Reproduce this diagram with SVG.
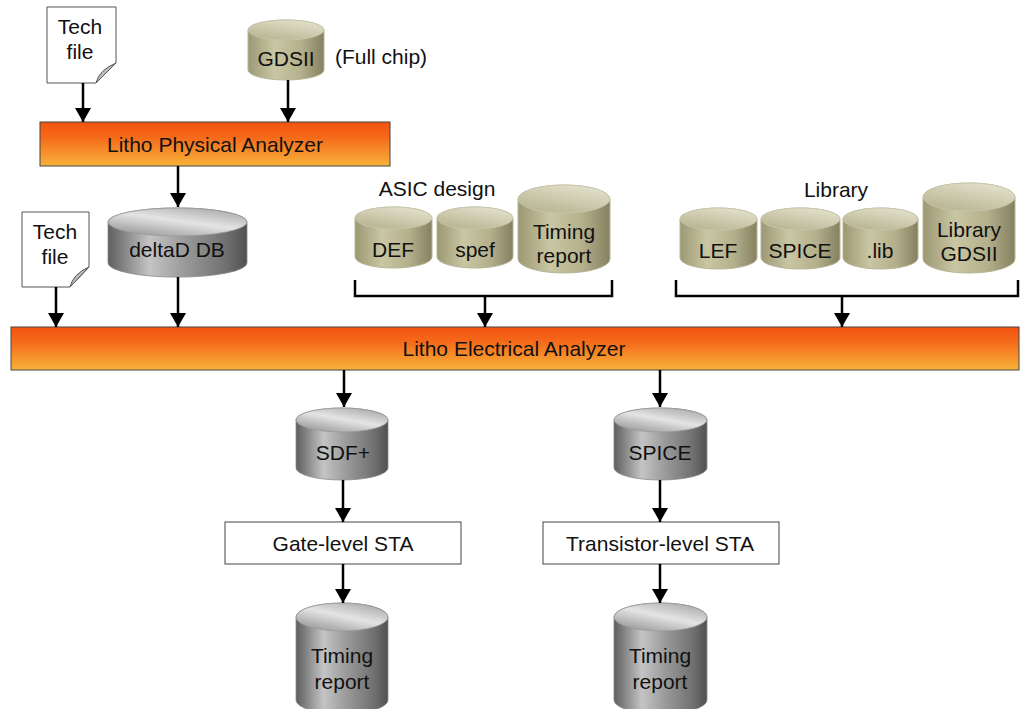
<svg xmlns="http://www.w3.org/2000/svg" width="1024" height="709" viewBox="0 0 1024 709">
<defs>
<linearGradient id="bar" x1="0" y1="0" x2="0" y2="1">
<stop offset="0" stop-color="#f4530f"/>
<stop offset="0.35" stop-color="#f56a1a"/>
<stop offset="1" stop-color="#f8b33a"/>
</linearGradient>
<linearGradient id="olB" x1="0" y1="0" x2="1" y2="0">
<stop offset="0" stop-color="#9c9874"/>
<stop offset="0.35" stop-color="#c9c6a3"/>
<stop offset="0.7" stop-color="#b4b08c"/>
<stop offset="1" stop-color="#858160"/>
</linearGradient>
<linearGradient id="olT" x1="0" y1="1" x2="0.6" y2="0">
<stop offset="0" stop-color="#b2ae8a"/>
<stop offset="1" stop-color="#e0dec8"/>
</linearGradient>
<linearGradient id="grB" x1="0" y1="0" x2="1" y2="0">
<stop offset="0" stop-color="#5e5e5e"/>
<stop offset="0.3" stop-color="#c4c4c4"/>
<stop offset="0.55" stop-color="#9a9a9a"/>
<stop offset="0.85" stop-color="#707070"/>
<stop offset="1" stop-color="#505050"/>
</linearGradient>
<linearGradient id="grT" x1="0" y1="1" x2="0.7" y2="0">
<stop offset="0" stop-color="#8a8a8a"/>
<stop offset="0.6" stop-color="#e4e4e4"/>
<stop offset="1" stop-color="#b0b0b0"/>
</linearGradient>
<marker id="ah" markerUnits="userSpaceOnUse" markerWidth="16" markerHeight="16" refX="14" refY="8" orient="auto">
<path d="M0,0 L14,8 L0,16 Z" fill="#000"/>
</marker>
</defs>
<style>
text{font-family:"Liberation Sans",Arial,sans-serif;font-size:21px;fill:#111;text-anchor:middle}
.doc{fill:#fff;stroke:#555;stroke-width:1}
.fold{fill:#bdbdbd;stroke:#555;stroke-width:1}
.bar{fill:url(#bar);stroke:#444;stroke-width:1}
.box{fill:#fff;stroke:#444;stroke-width:1}
.olb{fill:url(#olB);stroke:#b8b596;stroke-width:1}
.olt{fill:url(#olT);stroke:#c8c6ac;stroke-width:0.8}
.grb{fill:url(#grB);stroke:#888;stroke-width:0.8}
.grt{fill:url(#grT);stroke:#999;stroke-width:0.8}
.ln{stroke:#000;stroke-width:2.5;fill:none}
.ar{stroke:#000;stroke-width:2.5;fill:none;marker-end:url(#ah)}
</style>

<g id="techfile1">
<path class="doc" d="M47,7 H116 V63 L96,83 H47 Z"/>
<path class="fold" d="M116,63 L96,83 Q99,70 116,63 Z"/>
<text x="80" y="34">Tech</text>
<text x="80" y="59">file</text>
</g>

<g id="gdsii">
<path class="olb" d="M248,30 A38,10 0 0 1 324,30 V70 A38,10 0 0 1 248,70 Z"/>
<ellipse class="olt" cx="286" cy="30" rx="38" ry="10"/>
<text x="286" y="66">GDSII</text>
<text x="381" y="64">(Full chip)</text>
</g>

<g id="lpa">
<rect class="bar" x="40" y="122" width="350" height="44"/>
<text x="215" y="152">Litho Physical Analyzer</text>
</g>

<g id="deltad">
<path class="grb" d="M108,222 A69,14 0 0 1 247,222 V263 A69,14 0 0 1 108,263 Z"/>
<ellipse class="grt" cx="177.5" cy="222" rx="69.5" ry="14"/>
<text x="177" y="257">deltaD DB</text>
</g>

<g id="techfile2">
<path class="doc" d="M22,212 H89 V267 L70,287 H22 Z"/>
<path class="fold" d="M89,267 L70,287 Q73,274 89,267 Z"/>
<text x="55" y="239">Tech</text>
<text x="55" y="264">file</text>
</g>

<g id="asic">
<text x="437" y="196">ASIC design</text>
<g id="def">
<path class="olb" d="M355,218 A38.5,11 0 0 1 432,218 V257 A38.5,11 0 0 1 355,257 Z"/>
<ellipse class="olt" cx="393.5" cy="218" rx="38.5" ry="11"/>
<text x="393" y="257">DEF</text>
</g>
<g id="spef">
<path class="olb" d="M437,218 A38,11 0 0 1 513,218 V257 A38,11 0 0 1 437,257 Z"/>
<ellipse class="olt" cx="475" cy="218" rx="38" ry="11"/>
<text x="475" y="257">spef</text>
</g>
<g id="timing1">
<path class="olb" d="M518,199 A46,14 0 0 1 610,199 V259 A46,14 0 0 1 518,259 Z"/>
<ellipse class="olt" cx="564" cy="199" rx="46" ry="14"/>
<text x="564" y="239">Timing</text>
<text x="564" y="263">report</text>
</g>
</g>

<g id="library">
<text x="836" y="197">Library</text>
<g id="lef">
<path class="olb" d="M680,219 A38.5,11 0 0 1 757,219 V258 A38.5,11 0 0 1 680,258 Z"/>
<ellipse class="olt" cx="718.5" cy="219" rx="38.5" ry="11"/>
<text x="718" y="258">LEF</text>
</g>
<g id="spice1">
<path class="olb" d="M761,219 A39.5,11 0 0 1 840,219 V258 A39.5,11 0 0 1 761,258 Z"/>
<ellipse class="olt" cx="800.5" cy="219" rx="39.5" ry="11"/>
<text x="800" y="258">SPICE</text>
</g>
<g id="lib">
<path class="olb" d="M843,219 A37.5,11 0 0 1 918,219 V258 A37.5,11 0 0 1 843,258 Z"/>
<ellipse class="olt" cx="880.5" cy="219" rx="37.5" ry="11"/>
<text x="880" y="258">.lib</text>
</g>
<g id="libgds">
<path class="olb" d="M923,197 A46,14 0 0 1 1015,197 V259 A46,14 0 0 1 923,259 Z"/>
<ellipse class="olt" cx="969" cy="197" rx="46" ry="14"/>
<text x="969" y="237">Library</text>
<text x="969" y="261">GDSII</text>
</g>
</g>

<g id="lea">
<rect class="bar" x="11" y="327" width="1008" height="43"/>
<text x="514" y="356">Litho Electrical Analyzer</text>
</g>

<g id="sdf">
<path class="grb" d="M296,420 A46,12 0 0 1 388,420 V468 A46,12 0 0 1 296,468 Z"/>
<ellipse class="grt" cx="342" cy="420" rx="46" ry="12"/>
<text x="343" y="460">SDF+</text>
</g>
<g id="spice2">
<path class="grb" d="M614,420 A46.5,12 0 0 1 707,420 V468 A46.5,12 0 0 1 614,468 Z"/>
<ellipse class="grt" cx="660.5" cy="420" rx="46.5" ry="12"/>
<text x="660" y="460">SPICE</text>
</g>

<g id="gatesta">
<rect class="box" x="225" y="522" width="236" height="42"/>
<text x="343" y="551">Gate-level STA</text>
</g>
<g id="transsta">
<rect class="box" x="543" y="522" width="236" height="42"/>
<text x="660" y="551">Transistor-level STA</text>
</g>

<g id="timing2">
<path class="grb" d="M296,617 A46,14 0 0 1 388,617 V700 A46,14 0 0 1 296,700 Z"/>
<ellipse class="grt" cx="342" cy="617" rx="46" ry="14"/>
<text x="342" y="663">Timing</text>
<text x="342" y="689">report</text>
</g>
<g id="timing3">
<path class="grb" d="M614,617 A46.5,14 0 0 1 707,617 V700 A46.5,14 0 0 1 614,700 Z"/>
<ellipse class="grt" cx="660.5" cy="617" rx="46.5" ry="14"/>
<text x="660" y="663">Timing</text>
<text x="660" y="689">report</text>
</g>

<g id="connectors">
<line class="ar" x1="83" y1="83" x2="83" y2="122"/>
<line class="ar" x1="288" y1="80" x2="288" y2="122"/>
<line class="ar" x1="178" y1="166" x2="178" y2="207"/>
<line class="ar" x1="56" y1="287" x2="56" y2="327"/>
<line class="ar" x1="178" y1="277" x2="178" y2="327"/>
<path class="ln" d="M355,280 V296 H612 V280"/>
<line class="ar" x1="485" y1="296" x2="485" y2="327"/>
<path class="ln" d="M676,280 V296 H1018 V280"/>
<line class="ar" x1="842" y1="296" x2="842" y2="327"/>
<line class="ar" x1="344" y1="370" x2="344" y2="407"/>
<line class="ar" x1="660" y1="370" x2="660" y2="407"/>
<line class="ar" x1="343" y1="480" x2="343" y2="522"/>
<line class="ar" x1="660" y1="480" x2="660" y2="522"/>
<line class="ar" x1="343" y1="564" x2="343" y2="603"/>
<line class="ar" x1="660" y1="564" x2="660" y2="603"/>
</g>
</svg>
